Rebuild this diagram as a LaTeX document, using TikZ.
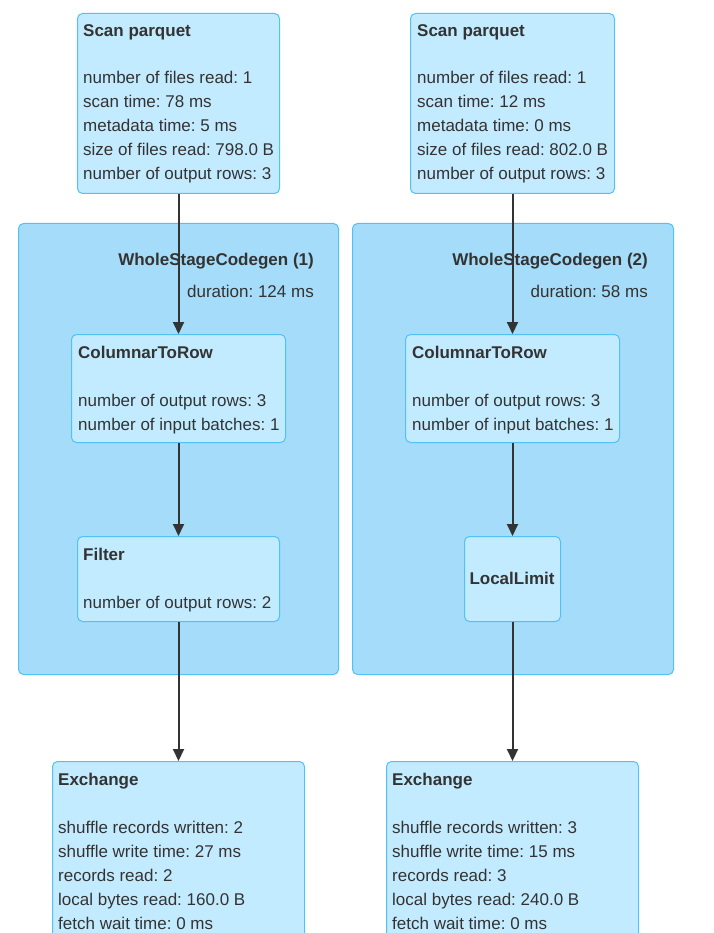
\documentclass[tikz,border=0pt]{standalone}
\usepackage{fontspec}
\setmainfont{Liberation Sans}
\usetikzlibrary{arrows.meta}
\definecolor{opfill}{HTML}{C3EBFF}
\definecolor{clusterfill}{HTML}{A4DCF9}
\definecolor{edgeblue}{HTML}{52C2F5}
\definecolor{ink}{HTML}{333333}
\frenchspacing
\begin{document}
\begin{tikzpicture}[x=1pt, y=-1pt,
        cluster/.style={rectangle, draw=edgeblue, fill=clusterfill, rounded corners=5pt, line width=1pt, anchor=north west, inner sep=0pt},
        opbox/.style={rectangle, draw=edgeblue, fill=opfill, rounded corners=5pt, line width=1pt, anchor=north west, inner sep=0pt},
        title/.style={font=\fontsize{17}{24}\selectfont\bfseries, text=ink, inner sep=0pt, anchor=base west},
        metric/.style={font=\fontsize{17}{24}\selectfont, text=ink, inner sep=0pt, anchor=base west},
        flow/.style={draw=ink, line width=2pt, -{Triangle[length=12pt,width=11pt]}}
    ]
        \useasboundingbox (0,0) rectangle (713,933);
        \clip (0,0) rectangle (713,933);
        % stages
        \node[cluster, minimum width=320pt, minimum height=451pt] (wscgL) at (18,223) {};
        \node[cluster, minimum width=321pt, minimum height=451pt] (wscgR) at (352,223) {};
        \node[title, anchor=base east] (wscgL-t) at (314,265) {WholeStageCodegen (1)};
        \node[metric, anchor=base east] (wscgL-d) at (314,297) {duration: 124 ms};
        \node[title, anchor=base east] (wscgR-t) at (648,265) {WholeStageCodegen (2)};
        \node[metric, anchor=base east] (wscgR-d) at (648,297) {duration: 58 ms};
        % scans
        \node[opbox, minimum width=202pt, minimum height=180pt] (scanL) at (77,13) {};
        \node[opbox, minimum width=204pt, minimum height=180pt] (scanR) at (410,13) {};
        \node[title] (scanL-t) at (83,37) {Scan parquet};
        \node[title] (scanR-t) at (417,37) {Scan parquet};
        \foreach \txt [count=\i] in {number of files read: 1, scan time: 78 ms, metadata time: 5 ms, size of files read: 798.0 B, number of output rows: 3} {
            \node[metric] (scanL-\i) at (83, 60+24*\i) {\txt};
        }
        \foreach \txt [count=\i] in {number of files read: 1, scan time: 12 ms, metadata time: 0 ms, size of files read: 802.0 B, number of output rows: 3} {
            \node[metric] (scanR-\i) at (417, 60+24*\i) {\txt};
        }
        % columnar to row
        \node[opbox, minimum width=214pt, minimum height=108pt] (ctrL) at (71,334) {};
        \node[opbox, minimum width=214pt, minimum height=108pt] (ctrR) at (405,334) {};
        \foreach \side/\x in {L/78, R/412} {
            \node[title] (ctr\side-t) at (\x,358) {ColumnarToRow};
            \node[metric] (ctr\side-1) at (\x,406) {number of output rows: 3};
            \node[metric] (ctr\side-2) at (\x,430) {number of input batches: 1};
        }
        % filter and limit
        \node[opbox, minimum width=202pt, minimum height=85pt] (filter) at (77,536) {};
        \node[title] (filter-t) at (83,560) {Filter};
        \node[metric] (filter-1) at (83,608) {number of output rows: 2};
        \node[opbox, minimum width=96pt, minimum height=85pt] (limit) at (464,536) {};
        \node[title, anchor=base] (limit-t) at (512,584) {LocalLimit};
        % exchanges
        \node[opbox, minimum width=252pt, minimum height=220pt] (exchL) at (52,761) {};
        \node[opbox, minimum width=252pt, minimum height=220pt] (exchR) at (386,761) {};
        \node[title] (exchL-t) at (58,785) {Exchange};
        \node[title] (exchR-t) at (392,785) {Exchange};
        \foreach \txt [count=\i] in {shuffle records written: 2, shuffle write time: 27 ms, records read: 2, local bytes read: 160.0 B, fetch wait time: 0 ms} {
            \node[metric] (exchL-\i) at (58, 809+24*\i) {\txt};
        }
        \foreach \txt [count=\i] in {shuffle records written: 3, shuffle write time: 15 ms, records read: 3, local bytes read: 240.0 B, fetch wait time: 0 ms} {
            \node[metric] (exchR-\i) at (392, 809+24*\i) {\txt};
        }
        % edges
        \draw[flow] (scanL.south) -- (ctrL.north);
        \draw[flow] (ctrL.south) -- (filter.north);
        \draw[flow] (filter.south) -- (exchL.north);
        \draw[flow] (scanR.south) -- (ctrR.north);
        \draw[flow] (ctrR.south) -- (limit.north);
        \draw[flow] (limit.south) -- (exchR.north);
    \end{tikzpicture}
\end{document}
